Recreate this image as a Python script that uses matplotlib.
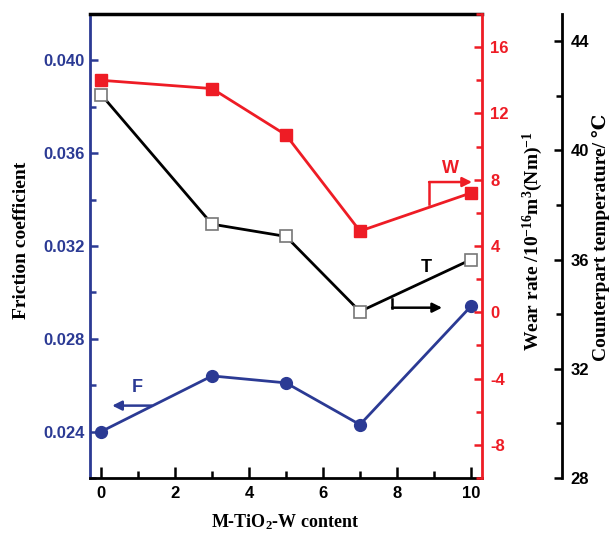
import matplotlib
matplotlib.use("Agg")
import matplotlib.pyplot as plt
from matplotlib.ticker import MultipleLocator

plt.rcParams["mathtext.fontset"] = "custom"
plt.rcParams["mathtext.rm"] = "Liberation Serif:bold"
plt.rcParams["mathtext.bf"] = "Liberation Serif:bold"
plt.rcParams["mathtext.it"] = "Liberation Serif:bold"

content = [0, 3, 5, 7, 10]
friction = [0.0240, 0.0264, 0.0261, 0.0243, 0.0294]
wear = [14.0, 13.5, 10.7, 4.9, 7.2]
temperature = [42.05, 37.3, 36.85, 34.1, 36.0]

BLUE = "#2b3a94"
RED = "#ee1c25"

fig = plt.figure(figsize=(6.16, 5.37), dpi=100)
ax = fig.add_axes([90/616, 59/537, 392/616, 464/537])
ax2 = ax.twinx()
ax3 = ax.twinx()

tick_font = dict(family="Liberation Sans", weight="bold", size=12)

# Friction (left)
ax.plot(content, friction, color=BLUE, lw=2, marker="o", ms=8.5, mfc=BLUE, mec=BLUE, zorder=5)
ax.set_xlim(-0.3, 10.3)
ax.set_ylim(0.022, 0.042)
ax.yaxis.set_minor_locator(MultipleLocator(0.002))
ax.xaxis.set_minor_locator(MultipleLocator(1))
ax.set_yticks([0.024, 0.028, 0.032, 0.036, 0.040])
ax.set_yticklabels(["0.024", "0.028", "0.032", "0.036", "0.040"], color=BLUE, **tick_font)
ax.set_xticks([0, 2, 4, 6, 8, 10])
ax.set_xticklabels(["0", "2", "4", "6", "8", "10"], color="black", **tick_font)
ax.tick_params(axis="y", which="both", direction="in", color=BLUE, width=1.8, pad=4)
ax.tick_params(axis="y", which="major", length=6)
ax.tick_params(axis="y", which="minor", length=4)
ax.tick_params(axis="x", which="both", direction="in", color="black", width=1.8, pad=6)
ax.tick_params(axis="x", which="major", length=8)
ax.tick_params(axis="x", which="minor", length=5)
ax.spines["left"].set_color(BLUE)
ax.spines["left"].set_linewidth(2)
ax.spines["bottom"].set_color("black")
ax.spines["bottom"].set_linewidth(2)
ax.spines["top"].set_color("black")
ax.spines["top"].set_linewidth(2.5)
ax.spines["right"].set_visible(False)

# Wear rate (inner right)
ax2.plot(content, wear, color=RED, lw=2, marker="s", ms=8.5, mfc=RED, mec=RED, zorder=5)
ax2.set_ylim(-10, 18)
ax2.set_yticks([-8, -4, 0, 4, 8, 12, 16])
ax2.set_yticklabels(["-8", "-4", "0", "4", "8", "12", "16"], color=RED, **tick_font)
ax2.yaxis.set_minor_locator(MultipleLocator(2))
ax2.tick_params(axis="y", which="both", direction="in", color=RED, width=1.8, pad=6)
ax2.tick_params(axis="y", which="major", length=6)
ax2.tick_params(axis="y", which="minor", length=4)
ax2.spines["right"].set_color(RED)
ax2.spines["right"].set_linewidth(2)
for s in ["left", "top", "bottom"]:
    ax2.spines[s].set_visible(False)

# Temperature (outer right)
ax3.plot(content, temperature, color="black", lw=2, marker="s", ms=8.5, mfc="white",
         mec="#777777", mew=1.2, zorder=6)
ax3.set_ylim(28, 45)
ax3.spines["right"].set_position(("axes", 1.204))
ax3.spines["right"].set_bounds(28, 45)
ax3.spines["right"].set_color("black")
ax3.spines["right"].set_linewidth(2)
for s in ["left", "top", "bottom"]:
    ax3.spines[s].set_visible(False)
ax3.set_yticks([28, 32, 36, 40, 44])
ax3.set_yticklabels(["28", "32", "36", "40", "44"], color="black", **tick_font)
ax3.yaxis.set_minor_locator(MultipleLocator(2))
ax3.tick_params(axis="y", which="both", direction="in", color="black", width=1.8, pad=6)
ax3.tick_params(axis="y", which="major", length=6)
ax3.tick_params(axis="y", which="minor", length=4)

# Annotations
ax2.annotate("", xy=(10.03, 7.86), xytext=(8.87, 7.86),
             arrowprops=dict(arrowstyle="-|>", color=RED, lw=1.8, mutation_scale=14,
                             shrinkA=0, shrinkB=0))
ax2.plot([8.87, 8.87], [6.53, 7.86], color=RED, lw=1.8)
ax2.text(9.46, 8.7, "W", color=RED, ha="center", va="center", family="Liberation Sans",
         weight="bold", size=13)

ax3.annotate("", xy=(9.22, 34.24), xytext=(7.87, 34.24),
             arrowprops=dict(arrowstyle="-|>", color="black", lw=1.8, mutation_scale=14,
                             shrinkA=0, shrinkB=0))
ax3.plot([7.87, 7.87], [34.57, 34.24], color="black", lw=1.8)
ax3.text(8.79, 35.7, "T", color="black", ha="center", va="center", family="Liberation Sans",
         weight="bold", size=13)

ax.annotate("", xy=(0.3, 0.02512), xytext=(1.37, 0.02512),
            arrowprops=dict(arrowstyle="-|>", color=BLUE, lw=1.8, mutation_scale=14,
                            shrinkA=0, shrinkB=0))
ax.text(0.97, 0.02589, "F", color=BLUE, ha="center", va="center", family="Liberation Sans",
        weight="bold", size=13)

label_font = dict(weight="bold", size=14)
fig.text(22/616, 1 - 240/537, "Friction coefficient", rotation=90, ha="center", va="center",
         family="Liberation Serif", **label_font)
fig.text(533/616, 1 - 241/537, r"Wear rate /10$^{-16}$m$^{3}$(Nm)$^{-1}$",
         rotation=90, ha="center", va="center", family="Liberation Serif", **label_font)
fig.text(601/616, 1 - 237/537, "Counterpart temperature/ \u2103", rotation=90, ha="center",
         va="center", family=["Liberation Serif", "DejaVu Serif", "DejaVu Sans"], **label_font)
fig.text(285/616, 1 - 522/537, r"M-TiO$_{2}$-W content", ha="center", va="center",
         family="Liberation Serif", weight="bold", size=13)

fig.savefig("out.png", dpi=100)
